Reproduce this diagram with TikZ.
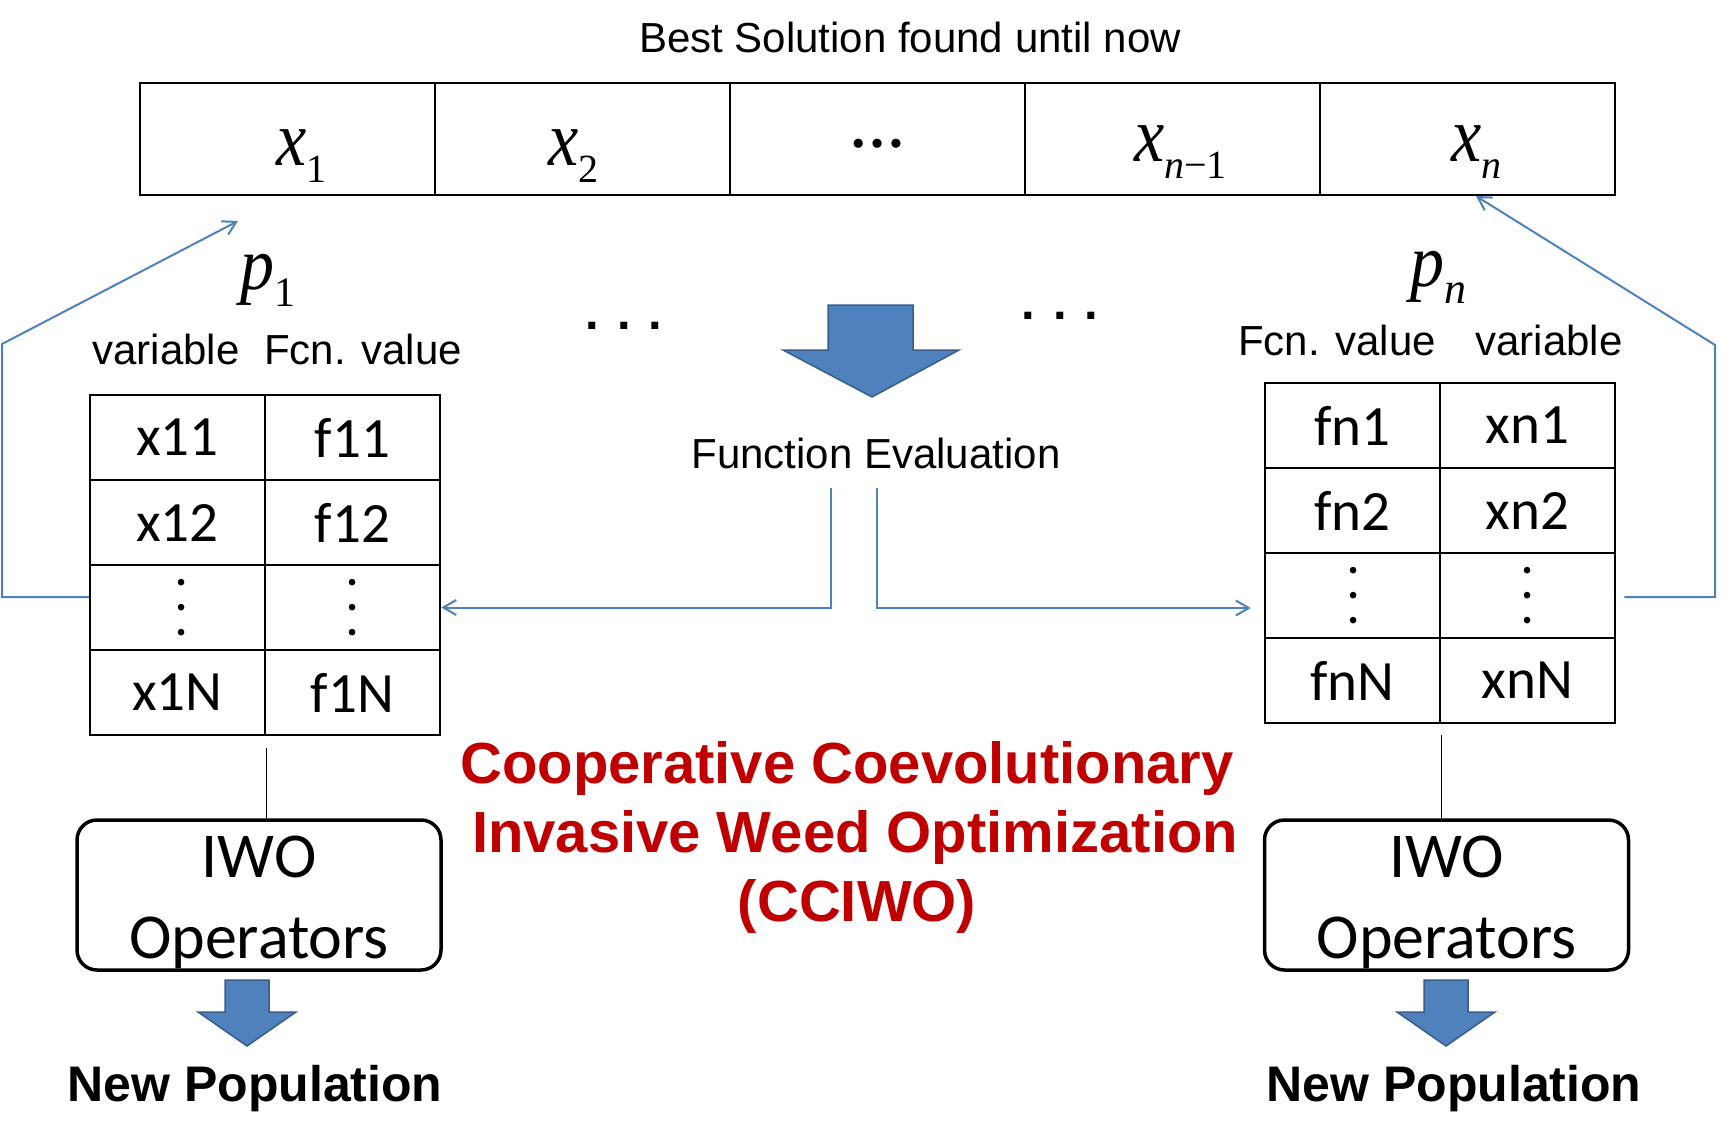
\documentclass[tikz,border=0pt]{standalone}
\usepackage{fontspec}
\setmainfont{Liberation Sans}
\newfontfamily\calfont{Carlito}
\newfontfamily\tmsfont{Liberation Serif}
\usetikzlibrary{arrows.meta}
\definecolor{ablue}{HTML}{4F81BD}
\definecolor{aborder}{HTML}{385D8A}
\definecolor{ared}{HTML}{C00000}
\newcommand{\FSz}[1]{\fontsize{#1}{#1}\selectfont}
\newcommand{\subx}[1]{\raisebox{-17pt}{\FSz{40}#1}}
\newcommand{\tallx}{\scalebox{1}[1.15]{\itshape x}}
\newcommand{\tallp}{\scalebox{1}[1.1]{\itshape p}}
\newcommand{\vdotsq}{\rotatebox{90}{\bfseries\FSz{44}. . .}}
\newcommand{\iwotext}{\raisebox{0pt}[50pt][86pt]{\begin{tabular}[t]{@{}c@{}}IWO\\Operators\end{tabular}}}
\begin{document}
\begin{tikzpicture}[x=1pt,y=-1pt,
  topcell/.style={draw, line width=2pt, minimum width=295pt, minimum height=112pt, inner sep=0pt},
  tcell/.style={draw, line width=2.5pt, minimum width=175pt, minimum height=85pt, inner sep=0pt, font=\calfont\FSz{57}},
  mathlbl/.style={inner sep=0pt, anchor=base west, font=\tmsfont\FSz{68}},
  sans/.style={inner sep=0pt, anchor=base, font=\FSz{42}},
  iwobox/.style={draw, line width=3.5pt, rounded corners=20pt, minimum width=364pt, minimum height=150pt, inner sep=0pt, font=\calfont\fontsize{64}{81}\selectfont},
  newpop/.style={inner sep=0pt, anchor=base, font=\bfseries\FSz{50}},
  redtitle/.style={inner sep=0pt, anchor=base, text=ared, font=\bfseries\FSz{58}},
  hdots/.style={inner sep=0pt, font=\bfseries\FSz{49}},
  bline/.style={draw=ablue, line width=2pt},
  barrow/.style={bline, -{Straight Barb[length=13pt,width=15pt]}},
  blockarrow/.style={fill=ablue, draw=aborder, line width=1.5pt, line join=miter},
  blk/.style={line width=1.5pt}
]
\useasboundingbox (0,0) rectangle (1729,1122);

% title
\node[sans] (best) at (910,52) {Best Solution found until now};

% top bar
\node[topcell] (c1) at (287.5,139) {};
\node[topcell] (c2) at (582.5,139) {};
\node[topcell] (c3) at (877.5,139) {};
\node[topcell] (c4) at (1172.5,139) {};
\node[topcell] (c5) at (1467.5,139) {};
\node[mathlbl] (lx1) at (276,165) {\tallx\subx{1}};
\node[mathlbl] (lx2) at (548,165) {\tallx\subx{2}};
\node[inner sep=0pt, font=\tmsfont\bfseries\FSz{56}] (ldots) at (877,144) {…};
\node[mathlbl] (lxn1) at (1134,161) {\tallx\subx{\itshape n\upshape −1}};
\node[mathlbl] (lxn) at (1451,161) {\tallx\subx{\itshape n}};

% population labels
\node[mathlbl] (p1) at (240,289) {\tallp\raisebox{-17pt}{\FSz{42}1}};
\node[mathlbl] (pn) at (1410,286) {\tallp\raisebox{-17pt}{\FSz{44}\itshape n}};
\node[sans] (varL) at (166,364) {variable};
\node[sans] (fcnL) at (363,364) {Fcn. value};
\node[sans] (fcnR) at (1337,355) {Fcn. value};
\node[sans] (varR) at (1549,355) {variable};

% dots between
\node[hdots] (hd1) at (624,326) {. . .};
\node[hdots] (hd2) at (1060,316) {. . .};

% left table
\node[tcell] (L11) at (177.5,437.5) {x11};
\node[tcell] (L12) at (352.5,437.5) {f11};
\node[tcell] (L21) at (177.5,522.5) {x12};
\node[tcell] (L22) at (352.5,522.5) {f12};
\node[tcell] (L31) at (177.5,607.5) {\hspace{9pt}\vdotsq};
\node[tcell] (L32) at (352.5,607.5) {\vdotsq\hspace{4pt}};
\node[tcell] (L41) at (177.5,692.5) {x1N};
\node[tcell] (L42) at (352.5,692.5) {f1N};

% right table
\node[tcell] (R11) at (1352.5,425.5) {fn1};
\node[tcell] (R12) at (1527.5,425.5) {xn1};
\node[tcell] (R21) at (1352.5,510.5) {fn2};
\node[tcell] (R22) at (1527.5,510.5) {xn2};
\node[tcell] (R31) at (1352.5,595.5) {\hspace{3pt}\vdotsq};
\node[tcell] (R32) at (1527.5,595.5) {\vdotsq};
\node[tcell] (R41) at (1352.5,680.5) {fnN};
\node[tcell] (R42) at (1527.5,680.5) {xnN};

% function evaluation
\draw[blockarrow] (828,305) -- (913,305) -- (913,350) -- (959,350) -- (872,397) -- (783,350) -- (828,350) -- cycle;
\node[sans] (FE) at (876,468) {Function Evaluation};
\draw[barrow] ([xshift=-45pt,yshift=-19pt]FE.south) |- (L32.east);
\draw[barrow] ([xshift=1pt,yshift=-19pt]FE.south) |- ([xshift=-13pt,yshift=-12.5pt]R31.west);

% feedback arrows
\coordinate (fbL) at (2,344);
\coordinate (tipL) at (238,221);
\coordinate (fbR) at (1715,345);
\coordinate (tipR) at ([xshift=8.5pt]c5.south);
\draw[barrow] ([yshift=10.5pt]L31.west) -| (fbL) -- (tipL);
\draw[barrow] ([xshift=8pt,yshift=-1.5pt]R32.east) -| (fbR) -- (tipR);

% IWO boxes
\node[iwobox] (box1) at (259,895) {\iwotext};
\node[iwobox] (box2) at (1446.5,895) {\iwotext};
\draw[blk] ([yshift=-12pt]L41.south east) -- (L41.south east |- box1.north);
\draw[blk] ([yshift=-11pt]R41.south east) -- (R41.south east |- box2.north);

% small block arrows
\draw[blockarrow, shift={(247,0)}] (-22,980) -- (22,980) -- (22,1012) -- (49,1012) -- (0,1046) -- (-49,1012) -- (-22,1012) -- cycle;
\draw[blockarrow, shift={(1446,0)}] (-22,980) -- (22,980) -- (22,1012) -- (49,1012) -- (0,1046) -- (-49,1012) -- (-22,1012) -- cycle;
\node[newpop] (np1) at (255,1101) {New Population};
\node[newpop] (np2) at (1454,1101) {New Population};

% red title
\node[redtitle] (t1) at (847,783) {Cooperative Coevolutionary};
\node[redtitle] (t2) at (855,852) {Invasive Weed Optimization};
\node[redtitle] (t3) at (857,921) {(CCIWO)};
\end{tikzpicture}
\end{document}
